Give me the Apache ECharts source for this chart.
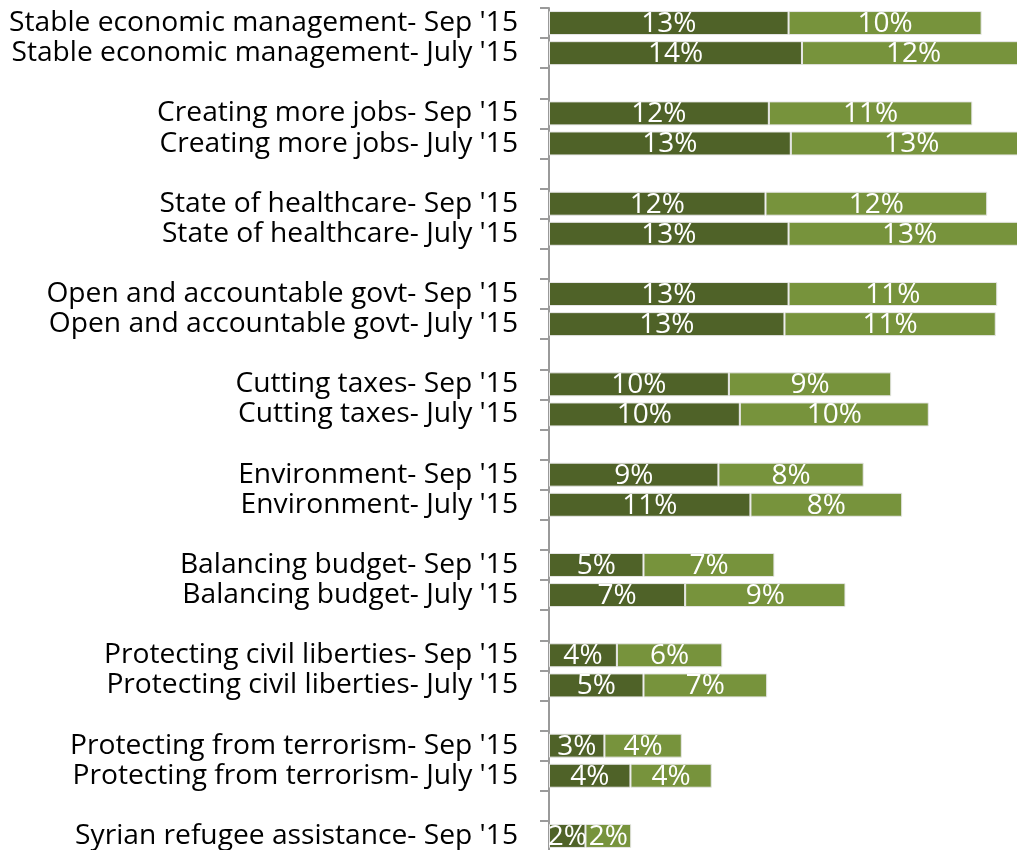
<!DOCTYPE html>
<html>
<head>
<meta charset="utf-8">
<script src="https://cdn.jsdelivr.net/npm/echarts@6/dist/echarts.min.js"></script>
<style>
html,body{margin:0;padding:0;overflow:hidden;background:#fff;width:1017px;height:850px;}
#chart{width:1120px;height:870px;}
</style>
</head>
<body>
<div id="chart"></div>
<script>
// Categories (blank entries are spacer rows between topic groups)
const categories = [
  "Stable economic management- Sep '15",
  "Stable economic management- July '15",
  "",
  "Creating more jobs- Sep '15",
  "Creating more jobs- July '15",
  "",
  "State of healthcare- Sep '15",
  "State of healthcare- July '15",
  "",
  "Open and accountable govt- Sep '15",
  "Open and accountable govt- July '15",
  "",
  "Cutting taxes- Sep '15",
  "Cutting taxes- July '15",
  "",
  "Environment- Sep '15",
  "Environment- July '15",
  "",
  "Balancing budget- Sep '15",
  "Balancing budget- July '15",
  "",
  "Protecting civil liberties- Sep '15",
  "Protecting civil liberties- July '15",
  "",
  "Protecting from terrorism- Sep '15",
  "Protecting from terrorism- July '15",
  "",
  "Syrian refugee assistance- Sep '15"
];
// First (dark) segment values, %
const darkValues = [
  12.88, 13.6, null,
  11.82, 13.0, null,
  11.64, 12.88, null,
  12.88, 12.66, null,
  9.67, 10.26, null,
  9.11, 10.83, null,
  5.08, 7.32, null,
  3.65, 5.08, null,
  2.98, 4.38, null,
  1.96
];
// Second (light) segment values, %
const lightValues = [
  10.38, 12.0, null,
  10.94, 13.0, null,
  11.92, 13.0, null,
  11.22, 11.36, null,
  8.73, 10.16, null,
  7.81, 8.16, null,
  7.04, 8.62, null,
  5.67, 6.65, null,
  4.16, 4.37, null,
  2.46
];

const FONT = "'Open Sans', sans-serif";
const chart = echarts.init(document.getElementById('chart'), null, {renderer: 'canvas'});
const labelCfg = {
  show: true,
  position: 'inside',
  color: '#ffffff',
  fontSize: 28,
  fontFamily: FONT,
  offset: [0, 1],
  formatter: p => (p.value == null ? '' : Math.round(p.value) + '%')
};
chart.setOption({
  animation: false,
  grid: {left: 549, top: 8, width: 558, height: 843, containLabel: false},
  xAxis: {
    type: 'value', min: 0, max: 30, show: false
  },
  yAxis: {
    type: 'category',
    data: categories,
    inverse: true,
    axisLine: {show: true, lineStyle: {color: '#9a9a9a', width: 2}},
    axisTick: {show: true, length: 9, lineStyle: {color: '#9a9a9a', width: 2}},
    axisLabel: {color: '#000', fontSize: 28.2, fontFamily: FONT, margin: 31, interval: 0},
    splitLine: {show: false}
  },
  series: [
    {
      type: 'bar', stack: 'total', data: darkValues, barWidth: 24,
      itemStyle: {color: '#4F6228', borderColor: '#e8e8e8', borderWidth: 1},
      label: labelCfg
    },
    {
      type: 'bar', stack: 'total', data: lightValues, barWidth: 24,
      itemStyle: {color: '#77933C', borderColor: '#e8e8e8', borderWidth: 1},
      label: labelCfg
    }
  ]
});
</script>
</body>
</html>
